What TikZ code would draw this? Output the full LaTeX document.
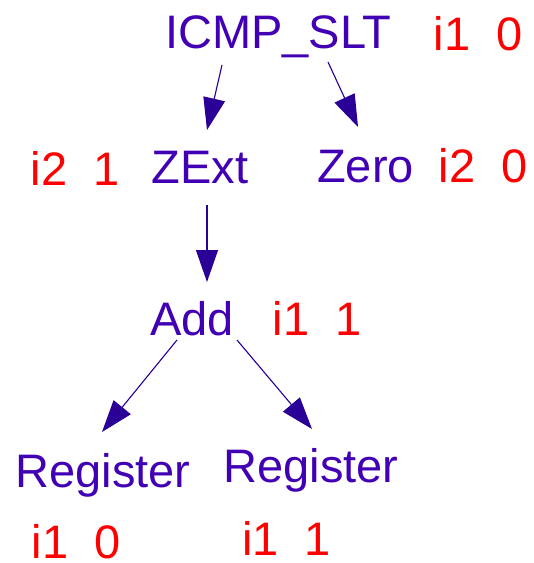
\documentclass[tikz,border=0pt]{standalone}
\usepackage{fontspec}
\setmainfont{Liberation Sans}
\usetikzlibrary{arrows.meta,calc}
\definecolor{optext}{RGB}{66,0,180}
\definecolor{edgecol}{RGB}{42,0,150}
\definecolor{tagred}{RGB}{255,0,0}
\tikzset{
  op/.style={inner sep=0pt,anchor=base,text=optext,font=\fontsize{47}{56}\selectfont},
  tag/.style={inner sep=0pt,anchor=base,text depth=0pt,text=tagred,font=\fontsize{47}{56}\selectfont},
  edge/.style={draw=edgecol,line width=1.1pt,-{Triangle[length=32pt,width=22pt]},fill=edgecol}
}
\begin{document}
\begin{tikzpicture}[x=1pt,y=-1pt]
\useasboundingbox (0,0) rectangle (534,563);
% operation nodes
\node[op] (icmp) at (278.5,48) {ICMP\_SLT};
\node[op] (zext) at (200,183) {ZExt};
\node[op] (zero) at (365.5,182) {Zero};
\node[op] (add) at (192,335) {Add};
\node[op] (regl) at (103,487) {Register};
\node[op] (regr) at (311,482) {Register};
% type and index tags
\node[tag] (ticmp) at (478,50) {i1\ \ 0};
\node[tag] (tzext) at (75,185) {i2\ \ 1};
\node[tag] (tzero) at (483,182) {i2\ \ 0};
\node[tag] (tadd) at (317,335) {i1\ \ 1};
\node[tag] (tregl) at (76,558) {i1\ \ 0};
\node[tag] (tregr) at (286.5,555) {i1\ \ 1};
% operand edges
\draw[edge] ($(icmp.base)+(-56.5,17)$) -- ($(zext.base)+(7,-53)$);
\draw[edge] ($(icmp.base)+(49.5,14)$) -- ($(zero.base)+(-7.5,-55)$);
\draw[edge] ($(zext.base)+(7,22)$) -- ($(add.base)+(15,-53)$);
\draw[edge] ($(add.base)+(-15,5)$) -- ($(regl.base)+(-1,-55)$);
\draw[edge] ($(add.base)+(45,5)$) -- ($(regr.base)+(1,-53)$);
\end{tikzpicture}
\end{document}
